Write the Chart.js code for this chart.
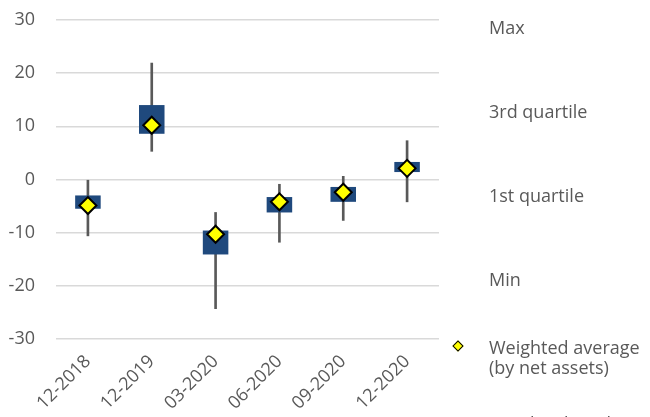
<!DOCTYPE html>
<html>
<head>
<meta charset="utf-8">
<script src="https://cdn.jsdelivr.net/npm/chart.js@4"></script>
<style>
  html, body { margin: 0; padding: 0; background: #fff; overflow: hidden; }
  #wrap { position: relative; width: 650px; height: 417px; }
  #legend { position: absolute; left: 0; top: 0; width: 650px; height: 417px; pointer-events: none;
    font-family: "Open Sans", sans-serif; font-size: 18px; color: #595959; overflow: hidden; }
  #legend .item { position: absolute; left: 489px; line-height: 20px; white-space: nowrap; }
  #legend .mark { position: absolute; left: 454px; width: 6px; height: 6px; background: #ffff00;
    border: 1.5px solid #000; transform: rotate(45deg); }
</style>
</head>
<body>
<div id="wrap">
  <canvas id="chart"></canvas>
  <div id="legend"></div>
</div>
<script>
const categories = ["12-2018", "12-2019", "03-2020", "06-2020", "09-2020", "12-2020"];
const minVals = [-10.6, 5.3, -24.3, -11.8, -7.7, -4.2];
const q1Vals = [-5.5, 8.6, -14.1, -6.2, -4.2, 1.4];
const q3Vals = [-3.0, 14.0, -9.6, -3.3, -1.4, 3.3];
const maxVals = [0.0, 21.9, -6.2, -0.9, 0.6, 7.3];
const avgVals = [-4.9, 10.2, -10.3, -4.2, -2.4, 2.1];
const yTicks = [-30, -20, -10, 0, 10, 20, 30];

// right-hand legend entries (top offset of each text block)
const legendItems = [
  { text: "Max", top: 17 },
  { text: "3rd quartile", top: 101 },
  { text: "1st quartile", top: 185 },
  { text: "Min", top: 269 },
  { text: "Weighted average<br>(by net assets)", top: 337, marker: true },
  { text: "Weighted median", top: 413 }
];

const legend = document.getElementById("legend");
legendItems.forEach(it => {
  const d = document.createElement("div");
  d.className = "item";
  d.style.top = it.top + "px";
  d.innerHTML = it.text;
  legend.appendChild(d);
  if (it.marker) {
    const m = document.createElement("div");
    m.className = "mark";
    m.style.top = (it.top + 5) + "px";
    legend.appendChild(m);
  }
});

const textColor = "#595959";
const font = { family: "'Open Sans', sans-serif", size: 18 };

new Chart(document.getElementById("chart"), {
  type: "bar",
  data: {
    labels: categories,
    datasets: [
      {
        label: "Weighted average (by net assets)",
        type: "line",
        data: avgVals,
        showLine: false,
        pointStyle: "rectRot",
        pointRadius: 8.5,
        pointBackgroundColor: "#ffff00",
        pointBorderColor: "#000000",
        pointBorderWidth: 2,
        order: 0
      },
      {
        label: "Quartiles",
        data: q1Vals.map((v, i) => [v, q3Vals[i]]),
        backgroundColor: "#1f497d",
        borderSkipped: false,
        grouped: false,
        barPercentage: 0.4,
        categoryPercentage: 1,
        order: 1
      },
      {
        label: "Range",
        data: minVals.map((v, i) => [v, maxVals[i]]),
        backgroundColor: "#595959",
        grouped: false,
        barThickness: 2,
        order: 2
      }
    ]
  },
  options: {
    responsive: true,
    maintainAspectRatio: false,
    animation: false,
    layout: { padding: { left: 0, right: 211, top: 20, bottom: 0 } },
    plugins: {
      legend: { display: false },
      tooltip: { enabled: false }
    },
    scales: {
      x: {
        grid: { display: false },
        border: { display: false },
        ticks: {
          color: textColor,
          font: font,
          minRotation: 45,
          maxRotation: 45,
          padding: 4
        },
        afterFit: scale => { scale.height = 78; }
      },
      y: {
        min: -30,
        max: 30,
        afterBuildTicks: scale => { scale.ticks = yTicks.map(v => ({ value: v })); },
        grid: { color: "#d9d9d9", lineWidth: 1.5, drawTicks: false },
        border: { display: false },
        ticks: { color: textColor, font: font, padding: 21 },
        // tick padding would otherwise be added above the top gridline
        afterFit: scale => {
          scale.width = 56;
          scale.paddingTop = 0;
          scale.paddingBottom = 0;
        }
      }
    }
  }
});
</script>
</body>
</html>
